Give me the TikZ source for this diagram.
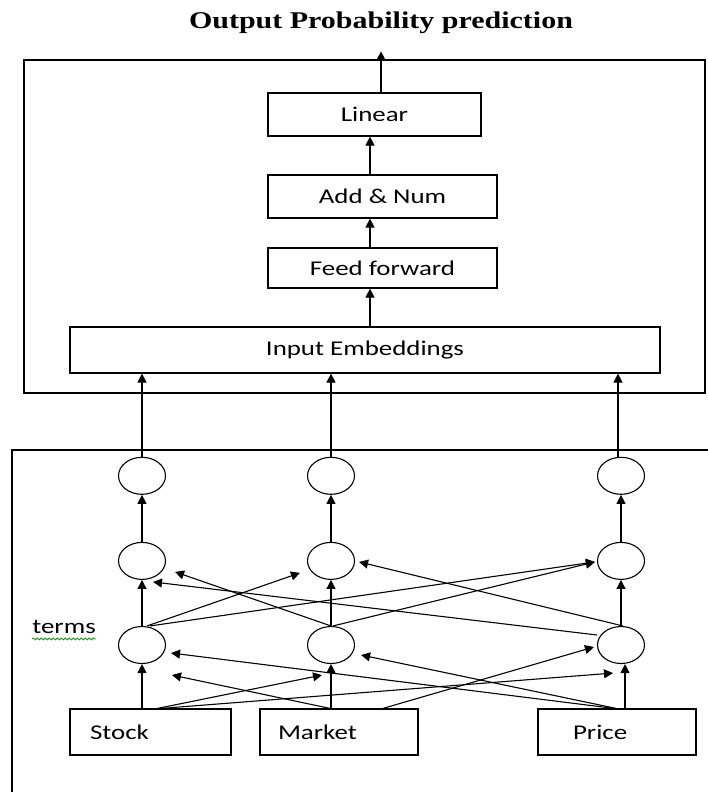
\documentclass[tikz,border=0pt]{standalone}
\usepackage{fontspec}
\usepackage{tikz}
\usetikzlibrary{shapes.geometric, arrows.meta, positioning, calc, decorations.pathmorphing}
\newfontfamily\titlefont[FakeStretch=1.25]{Liberation Serif}
\newfontfamily\boxfont[FakeStretch=1.28]{Carlito}
\tikzset{
	block/.style    ={rectangle, draw=black, line width=1.2pt, inner sep=0pt, text centered, font=\boxfont\fontsize{21}{25}\selectfont},
	wordbox/.style  ={rectangle, draw=black, line width=1.2pt, minimum height=46pt, inner ysep=0pt, align=left, font=\boxfont\fontsize{21}{25}\selectfont},
	neuron/.style   ={ellipse, draw=black, line width=1.1pt, minimum width=47pt, minimum height=37pt, inner sep=0pt},
	frame/.style    ={rectangle, draw=black, line width=1.3pt, inner sep=0pt},
	flowarrow/.style={-{Triangle[length=9pt, width=9pt]}, line width=1.1pt},
}

\begin{document}
\begin{tikzpicture}[x=1pt, y=-1pt]
	\useasboundingbox (0,0) rectangle (708,792);
	\clip (0,0) rectangle (708,792);
	% upper part
	\node[font=\titlefont\bfseries\fontsize{24}{28}\selectfont] (title) at (381,23) {Output Probability prediction};
	\node[frame, minimum width=681pt, minimum height=333pt] (topframe) at (364.5,226.5) {};
	\node[block, minimum width=213pt, minimum height=43pt] (linear) at (374.5,114.5) {Linear};
	\node[block, minimum width=229pt, minimum height=43pt] (addnum) at (382.5,196.5) {Add \& Num};
	\node[block, minimum width=229pt, minimum height=40pt] (ffwd) at (382.5,268) {Feed forward};
	\node[block, minimum width=590pt, minimum height=46pt] (embed) at (365,350) {Input Embeddings};
	\coordinate (spine) at (370,0);
	\coordinate (outx) at (381,0);
	\draw[flowarrow] (embed.north -| spine) -- (ffwd.south -| spine);
	\draw[flowarrow] (ffwd.north -| spine) -- (addnum.south -| spine);
	\draw[flowarrow] (addnum.north -| spine) -- (linear.south -| spine);
	\draw[flowarrow] (linear.north -| outx) -- ($(topframe.north -| outx)+(0,-8)$);
	% lower part
	\node[frame, minimum width=700pt, minimum height=350pt] (lowframe) at (362,625) {};
	\node[wordbox, inner xsep=20pt, text width=121pt] (stock) at (150.5,732) {Stock};
	\node[wordbox, inner xsep=18pt, text width=122pt] (market) at (339,732) {Market};
	\node[wordbox, inner xsep=35pt, text width=88pt] (price) at (617,732) {Price};
	\node[neuron] (B1) at (142,645) {};
	\node[neuron] (B2) at (331,645) {};
	\node[neuron] (B3) at (621,645) {};
	\node[neuron, above=46pt of B1] (M1) {};
	\node[neuron, above=46pt of B2] (M2) {};
	\node[neuron, above=46pt of B3] (M3) {};
	\node[neuron, above=47pt of M1] (T1) {};
	\node[neuron, above=47pt of M2] (T2) {};
	\node[neuron, above=47pt of M3] (T3) {};
	\node[inner sep=0pt, font=\boxfont\fontsize{21}{25}\selectfont] (terms) at (64,627) {terms};
	\draw[green!60!black, line width=0.8pt, decorate, decoration={snake, amplitude=1pt, segment length=4pt}] ($(terms.south west)+(0,5)$) -- ($(terms.south east)+(0,5)$);
	% words to first layer
	\draw[flowarrow] (B1.south |- stock.north) -- (B1.south);
	\draw[flowarrow] ($(stock.north)+(7,0)$) -- ($(B2.south)+(-9,11)$);
	\draw[flowarrow] ($(stock.north)+(11,0)$) -- ($(B3.south)+(-8,9)$);
	\draw[flowarrow] (B2.south |- market.north) -- (B2.south);
	\draw[flowarrow] ($(market.north)+(-9,0)$) -- ($(B1.south)+(30,11)$);
	\draw[flowarrow] ($(market.north)+(44,0)$) -- ($(B3.west)+(-3,2)$);
	\draw[flowarrow] ($(B3.south |- price.north)+(4,0)$) -- ($(B3.south)+(4,0)$);
	\draw[flowarrow] ($(price.north)+(-3,0)$) -- ($(B1.east)+(5,8)$);
	\draw[flowarrow] ($(price.north)+(-1,0)$) -- ($(B2.east)+(6,10)$);
	% first to second layer
	\draw[flowarrow] (B1) -- (M1);
	\draw[flowarrow] ($(B1.north)+(5,0)$) -- ($(M2.west)+(-7,12)$);
	\draw[flowarrow] ($(B1.north)+(8,0)$) -- ($(M3.west)+(-2,1)$);
	\draw[flowarrow] (B2) -- (M2);
	\draw[flowarrow] (B2.north) -- ($(M1.east)+(9,11)$);
	\draw[flowarrow] ($(B2.north)+(2,0)$) -- ($(M3.west)+(-2,1)$);
	\draw[flowarrow] (B3) -- (M3);
	\draw[flowarrow] ($(B3.west)+(0,-10)$) -- ($(M1.south)+(11,2)$);
	\draw[flowarrow] ($(B3.north)+(2,0)$) -- ($(M2.east)+(4,1)$);
	% second to third layer and up
	\draw[flowarrow] (M1) -- (T1);
	\draw[flowarrow] (M2) -- (T2);
	\draw[flowarrow] (M3) -- (T3);
	\draw[flowarrow] (T1.north) -- (T1.north |- embed.south);
	\draw[flowarrow] (T2.north) -- (T2.north |- embed.south);
	\draw[flowarrow] ($(T3.north)+(-3,0)$) -- ($(T3.north |- embed.south)+(-3,0)$);
\end{tikzpicture}
\end{document}
